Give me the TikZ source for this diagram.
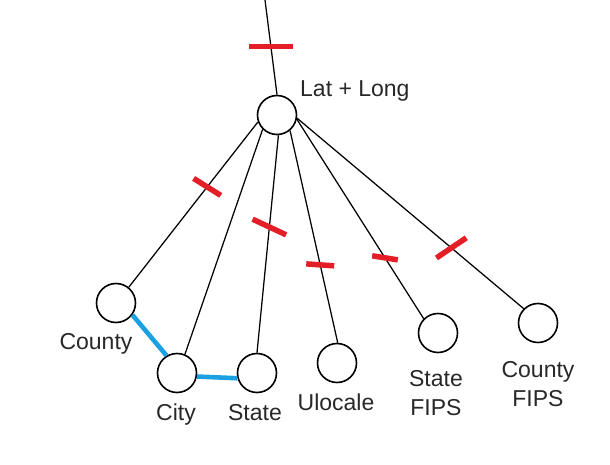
\documentclass[tikz,border=0pt]{standalone}
\usepackage{fontspec}
\setmainfont{Liberation Sans}
\definecolor{tickred}{RGB}{228,30,38}
\definecolor{linkblue}{RGB}{27,161,226}
\definecolor{txtgray}{RGB}{40,40,40}
\begin{document}
\begin{tikzpicture}[x=1pt,y=-1pt,
  ent/.style={circle,draw=black,line width=1.6pt,minimum size=39pt,inner sep=0pt,fill=white},
  conn/.style={draw=black,line width=1.25pt},
  rel/.style={draw=linkblue,line width=4.6pt},
  lbl/.style={font=\fontsize{23}{29}\selectfont,text=txtgray,inner sep=0pt,align=center},
  tickmark/.style={rectangle,fill=tickred,draw=none,inner sep=0pt,minimum height=5.5pt}]
\useasboundingbox[fill=white] (0,0) rectangle (610,465);
\node[ent] (ll) at (277,115) {};
\node[ent] (county) at (116,303) {};
\node[ent] (city) at (177,373) {};
\node[ent] (state) at (257,373) {};
\node[ent] (ulocale) at (337,363) {};
\node[ent] (sfips) at (438,333) {};
\node[ent] (cfips) at (538,323) {};
\coordinate (top) at (265,0);
\draw[conn] (top) -- node[tickmark,minimum width=44pt,pos=0.49]{} (ll.90);
\draw[conn] (ll.200) -- node[tickmark,minimum width=32pt,pos=0.393,rotate=-32]{} (county.51);
\draw[conn] (ll.225) -- (city.67);
\draw[conn] (ll.274) -- node[tickmark,minimum width=37pt,pos=0.422,rotate=-25]{} (state.90);
\draw[conn] (ll.310) -- node[tickmark,minimum width=28pt,pos=0.633,rotate=-4]{} (ulocale.88);
\draw[conn] (ll.348) -- node[tickmark,minimum width=26pt,pos=0.695,rotate=-9]{} (sfips.135);
\draw[conn] (ll.351) -- node[tickmark,minimum width=36pt,pos=0.681,rotate=34]{} (cfips.135);
\draw[rel] (county.324) -- (city.121);
\draw[rel] (city.350) -- (state.195);
\node[lbl,anchor=base west] (lblll) at (300,97) {Lat + Long};
\node[lbl,anchor=base] (lblcounty) at (96,349) {County};
\node[lbl,anchor=base] (lblcity) at (176,420) {City};
\node[lbl,anchor=base] (lblstate) at (255,420) {State};
\node[lbl,anchor=base] (lblulocale) at (336,410) {Ulocale};
\node[lbl] (lblsf) at (436,393) {State\\FIPS};
\node[lbl] (lblcf) at (538,384) {County\\FIPS};
\end{tikzpicture}
\end{document}
